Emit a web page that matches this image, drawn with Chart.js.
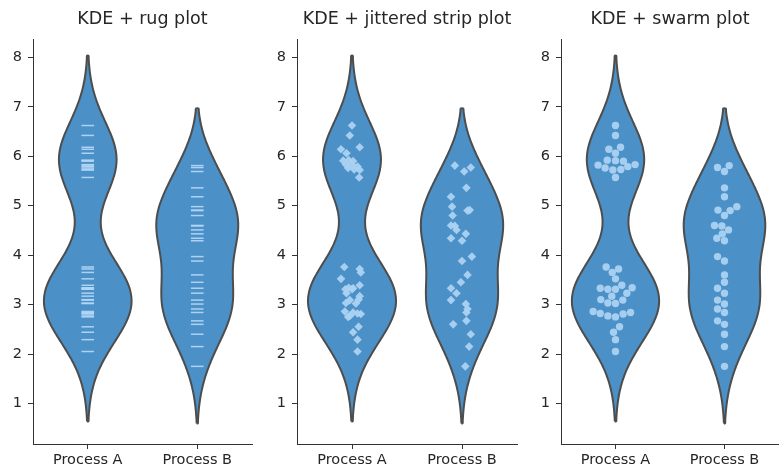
<!DOCTYPE html>
<html>
<head>
<meta charset="utf-8">
<script src="https://cdn.jsdelivr.net/npm/chart.js@4.4.1/dist/chart.umd.min.js"></script>
<style>
  html, body { margin: 0; padding: 0; background: #fff; overflow: hidden; }
  #wrap { position: relative; width: 779px; height: 473px; overflow: hidden; }
  canvas { position: absolute; top: 0; }
</style>
</head>
<body>
<div id="wrap">
  <canvas id="rug" width="260" height="473" style="left:0px"></canvas>
  <canvas id="strip" width="261" height="473" style="left:264px"></canvas>
  <canvas id="swarm" width="259" height="473" style="left:528px"></canvas>
</div>
<script>
// data
var categories = ["Process A", "Process B"];
var titles = ["KDE + rug plot", "KDE + jittered strip plot", "KDE + swarm plot"];
var yTicks = [1, 2, 3, 4, 5, 6, 7, 8];

var processA = [6.62, 6.42, 6.18, 6.14, 6.06, 5.92, 5.91, 5.90, 5.83, 5.82, 5.79, 5.76, 5.73, 5.72, 5.57,
  3.76, 3.72, 3.65, 3.52, 3.39, 3.34, 3.33, 3.31, 3.31, 3.23, 3.17, 3.10, 3.09, 3.03, 3.02,
  2.86, 2.84, 2.82, 2.81, 2.77, 2.75, 2.55, 2.44, 2.29, 2.05];
var processB = [5.81, 5.77, 5.69, 5.36, 5.18, 4.98, 4.91, 4.90, 4.80, 4.60, 4.59, 4.51, 4.43, 4.34, 4.29,
  3.97, 3.88, 3.60, 3.45, 3.33, 3.23, 3.09, 3.01, 2.91, 2.84, 2.67, 2.60, 2.40, 2.15, 1.75];

// horizontal offsets (in category units) of the jittered strip points
var stripJitterA = [0.00, -0.02, 0.07, -0.10, -0.05, -0.03, -0.08, 0.01, -0.055, 0.00, 0.05, -0.035, 0.02, 0.07, 0.065,
  -0.07, 0.07, 0.08, -0.10, 0.07, -0.03, 0.01, -0.06, 0.00, -0.05, 0.07, 0.06, -0.02, -0.055, 0.035,
  -0.065, 0.01, 0.05, 0.08, -0.02, -0.035, 0.06, 0.01, 0.05, 0.05];
var stripJitterB = [-0.065, 0.08, 0.02, 0.04, -0.10, -0.09, 0.07, 0.05, -0.085, -0.10, -0.065, -0.05, 0.035, -0.10, 0.00,
  0.09, 0.00, 0.05, -0.01, -0.10, -0.05, -0.10, 0.035, 0.05, 0.04, 0.04, -0.08, 0.08, 0.065, 0.03];

// horizontal offsets of the swarm points
var swarmOffsetA = [0, 0, 0.046, -0.061, 0, -0.076, 0, 0.073, 0.18, -0.16, 0.113, -0.095, 0.049, -0.024, 0,
  -0.086, 0.028, -0.03, 0, 0.058, 0.153, -0.14, -0.07, 0, 0.104, -0.034, -0.135, 0.067, -0.07, 0,
  -0.205, 0.138, -0.14, 0.07, -0.07, 0, 0.037, -0.018, 0, 0];
var swarmOffsetB = [0.043, -0.064, 0, 0, 0, 0.113, -0.06, 0.052, 0, -0.092, -0.024, 0.037, -0.02, -0.07, 0,
  -0.064, 0, 0, 0, -0.064, 0, -0.064, 0, -0.064, 0, -0.064, 0, 0, 0, 0];

var groups = [processA, processB];
var stripJitter = [stripJitterA, stripJitterB];
var swarmOffset = [swarmOffsetA, swarmOffsetB];

var violinFill = "#4b90c6";
var violinEdge = "#4d4d4d";
var pointColor = "rgba(170, 210, 242, 0.95)";
var textColor = "#262626";
var spineColor = "#333333";

// gaussian KDE with Scott's rule, cut = 2 (like seaborn's violinplot)
function kde(values) {
  var n = values.length;
  var mean = values.reduce(function (a, b) { return a + b; }, 0) / n;
  var sd = Math.sqrt(values.reduce(function (a, v) { return a + (v - mean) * (v - mean); }, 0) / (n - 1));
  var bw = sd * Math.pow(n, -0.2);
  var lo = Math.min.apply(null, values) - 2 * bw;
  var hi = Math.max.apply(null, values) + 2 * bw;
  var grid = [], dens = [];
  for (var i = 0; i < 100; i++) {
    var y = lo + (hi - lo) * i / 99;
    var s = 0;
    values.forEach(function (v) {
      var z = (y - v) / bw;
      s += Math.exp(-0.5 * z * z);
    });
    grid.push(y);
    dens.push(s / (n * bw * Math.sqrt(2 * Math.PI)));
  }
  return { grid: grid, dens: dens };
}

var kdes = groups.map(kde);
var maxDens = Math.max.apply(null, kdes.map(function (k) { return Math.max.apply(null, k.dens); }));

function violinOutline(k, center) {
  var pts = [];
  for (var i = 0; i < k.grid.length; i++) {
    pts.push({ x: center - 0.4 * k.dens[i] / maxDens, y: k.grid[i] });
  }
  for (var j = k.grid.length - 1; j >= 0; j--) {
    pts.push({ x: center + 0.4 * k.dens[j] / maxDens, y: k.grid[j] });
  }
  pts.push(pts[0]);
  return pts;
}

function violinDatasets() {
  return kdes.map(function (k, i) {
    return {
      type: "scatter",
      data: violinOutline(k, i),
      showLine: true,
      fill: "shape",
      backgroundColor: violinFill,
      borderColor: violinEdge,
      borderWidth: 2,
      borderJoinStyle: "round",
      pointRadius: 0,
      tension: 0.3,
      order: 2,
    };
  });
}

function rugDatasets() {
  return groups.map(function (vals, i) {
    return {
      type: "scatter",
      data: vals.map(function (v) { return { x: i, y: v }; }),
      pointStyle: "line",
      pointRadius: 6.3,
      borderColor: "rgba(178, 214, 245, 0.95)",
      borderWidth: 1.5,
      order: 1,
    };
  });
}

function stripDatasets() {
  return groups.map(function (vals, i) {
    return {
      type: "scatter",
      data: vals.map(function (v, j) { return { x: i + stripJitter[i][j], y: v }; }),
      pointStyle: "rectRot",
      pointRadius: 4.3,
      backgroundColor: pointColor,
      borderWidth: 0,
      order: 1,
    };
  });
}

function swarmDatasets() {
  return groups.map(function (vals, i) {
    return {
      type: "scatter",
      data: vals.map(function (v, j) { return { x: i + swarmOffset[i][j], y: v }; }),
      pointStyle: "circle",
      pointRadius: 3.7,
      backgroundColor: pointColor,
      borderWidth: 0,
      order: 1,
    };
  });
}

function makeChart(id, title, markDatasets) {
  var ctx = document.getElementById(id).getContext("2d");
  return new Chart(ctx, {
    type: "scatter",
    data: { datasets: violinDatasets().concat(markDatasets) },
    options: {
      responsive: false,
      animation: false,
      devicePixelRatio: 1,
      layout: { padding: { left: 0, right: 8, top: 0, bottom: 0 } },
      plugins: {
        legend: { display: false },
        tooltip: { enabled: false },
        title: {
          display: true,
          text: title,
          fullSize: false,
          color: textColor,
          font: { family: "DejaVu Sans", size: 17.5, weight: "normal", lineHeight: 1.2 },
          padding: { top: 9, bottom: 9 },
        },
      },
      scales: {
        x: {
          type: "linear",
          min: -0.5,
          max: 1.5,
          afterBuildTicks: function (axis) {
            axis.ticks = [{ value: 0 }, { value: 1 }];
          },
          afterFit: function (scale) { scale.height = 29; },
          ticks: {
            color: textColor,
            font: { family: "DejaVu Sans", size: 14.5 },
            padding: 3,
            maxRotation: 0,
            callback: function (v) { return categories[v]; },
          },
          grid: { drawOnChartArea: false, drawTicks: true, tickLength: 5, tickColor: spineColor },
          border: { display: true, color: spineColor, width: 1 },
        },
        y: {
          min: 0.18,
          max: 8.37,
          afterBuildTicks: function (axis) {
            axis.ticks = yTicks.map(function (t) { return { value: t }; });
          },
          afterFit: function (scale) { scale.width = 33; },
          ticks: {
            color: textColor,
            font: { family: "DejaVu Sans", size: 14.5 },
            padding: 6,
          },
          grid: { drawOnChartArea: false, drawTicks: true, tickLength: 5, tickColor: spineColor },
          border: { display: true, color: spineColor, width: 1 },
        },
      },
    },
  });
}

makeChart("rug", titles[0], rugDatasets());
makeChart("strip", titles[1], stripDatasets());
makeChart("swarm", titles[2], swarmDatasets());
</script>
</body>
</html>
